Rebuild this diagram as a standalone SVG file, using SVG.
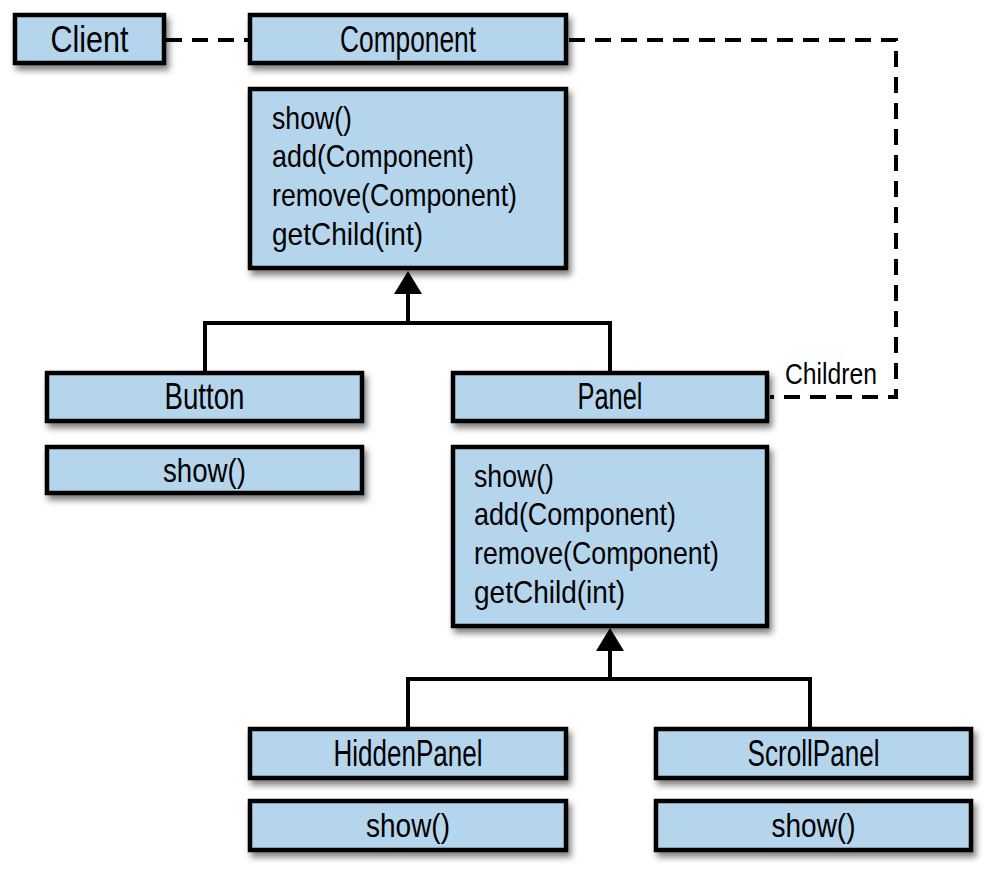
<svg xmlns="http://www.w3.org/2000/svg" width="1000" height="879" viewBox="0 0 1000 879">
<defs>
<filter id="sh" x="-10%" y="-20%" width="130%" height="160%">
<feDropShadow dx="3" dy="5" stdDeviation="3" flood-color="#000" flood-opacity="0.5"/>
</filter>
</defs>
<style>
.box{fill:#b4d5eb;stroke:#000;stroke-width:4.5;filter:url(#sh)}
.h{font-family:"Liberation Sans",Arial,sans-serif;font-size:36px;text-anchor:middle;fill:#000}
.m{font-family:"Liberation Sans",Arial,sans-serif;font-size:32px;fill:#000}
.mc{font-family:"Liberation Sans",Arial,sans-serif;font-size:33px;text-anchor:middle;fill:#000}
.lbl{font-family:"Liberation Sans",Arial,sans-serif;font-size:29px;fill:#000}
.ln{fill:none;stroke:#000;stroke-width:4}
.dash{fill:none;stroke:#000;stroke-width:4;stroke-dasharray:16 10}
</style>
<rect width="1000" height="879" fill="#fff"/>
<g id="connectors">
<path class="dash" d="M166 40 H248"/>
<path class="dash" d="M569 40 H896 V397 H770"/>
<path class="ln" d="M205 372 V323 H610 V372"/>
<path class="ln" d="M408 323 V290"/>
<polygon points="408,271 394,294 422,294" fill="#000"/>
<path class="ln" d="M408 727 V679 H810 V727"/>
<path class="ln" d="M610 679 V646"/>
<polygon points="610,628 596,651 624,651" fill="#000"/>
<text class="lbl" x="785" y="384" textLength="92" lengthAdjust="spacingAndGlyphs">Children</text>
</g>
<g id="client">
<rect class="box" x="15" y="15" width="149" height="48"/>
<text class="h" x="89.5" y="52" textLength="78" lengthAdjust="spacingAndGlyphs">Client</text>
</g>
<g id="component">
<rect class="box" x="250" y="15" width="316" height="48"/>
<text class="h" x="408" y="52" textLength="136" lengthAdjust="spacingAndGlyphs">Component</text>
<rect class="box" x="250" y="89" width="316" height="179"/>
<text class="m" x="272" y="129" textLength="80" lengthAdjust="spacingAndGlyphs">show()</text>
<text class="m" x="272" y="167" textLength="202" lengthAdjust="spacingAndGlyphs">add(Component)</text>
<text class="m" x="272" y="206" textLength="245" lengthAdjust="spacingAndGlyphs">remove(Component)</text>
<text class="m" x="272" y="245" textLength="151" lengthAdjust="spacingAndGlyphs">getChild(int)</text>
</g>
<g id="button">
<rect class="box" x="47" y="373" width="315" height="48"/>
<text class="h" x="204.5" y="409" textLength="80" lengthAdjust="spacingAndGlyphs">Button</text>
<rect class="box" x="47" y="447" width="315" height="46"/>
<text class="mc" x="204.5" y="482" textLength="83" lengthAdjust="spacingAndGlyphs">show()</text>
</g>
<g id="panel">
<rect class="box" x="453" y="373" width="314" height="48"/>
<text class="h" x="610" y="409" textLength="65" lengthAdjust="spacingAndGlyphs">Panel</text>
<rect class="box" x="453" y="447" width="314" height="179"/>
<text class="m" x="474" y="487" textLength="80" lengthAdjust="spacingAndGlyphs">show()</text>
<text class="m" x="474" y="525" textLength="202" lengthAdjust="spacingAndGlyphs">add(Component)</text>
<text class="m" x="474" y="564" textLength="245" lengthAdjust="spacingAndGlyphs">remove(Component)</text>
<text class="m" x="474" y="603" textLength="151" lengthAdjust="spacingAndGlyphs">getChild(int)</text>
</g>
<g id="hiddenpanel">
<rect class="box" x="250" y="729" width="316" height="49"/>
<text class="h" x="408" y="766" textLength="149" lengthAdjust="spacingAndGlyphs">HiddenPanel</text>
<rect class="box" x="250" y="801" width="316" height="49"/>
<text class="mc" x="408" y="837" textLength="84" lengthAdjust="spacingAndGlyphs">show()</text>
</g>
<g id="scrollpanel">
<rect class="box" x="656" y="729" width="315" height="49"/>
<text class="h" x="813.5" y="766" textLength="132" lengthAdjust="spacingAndGlyphs">ScrollPanel</text>
<rect class="box" x="656" y="801" width="315" height="49"/>
<text class="mc" x="813.5" y="837" textLength="84" lengthAdjust="spacingAndGlyphs">show()</text>
</g>
</svg>
